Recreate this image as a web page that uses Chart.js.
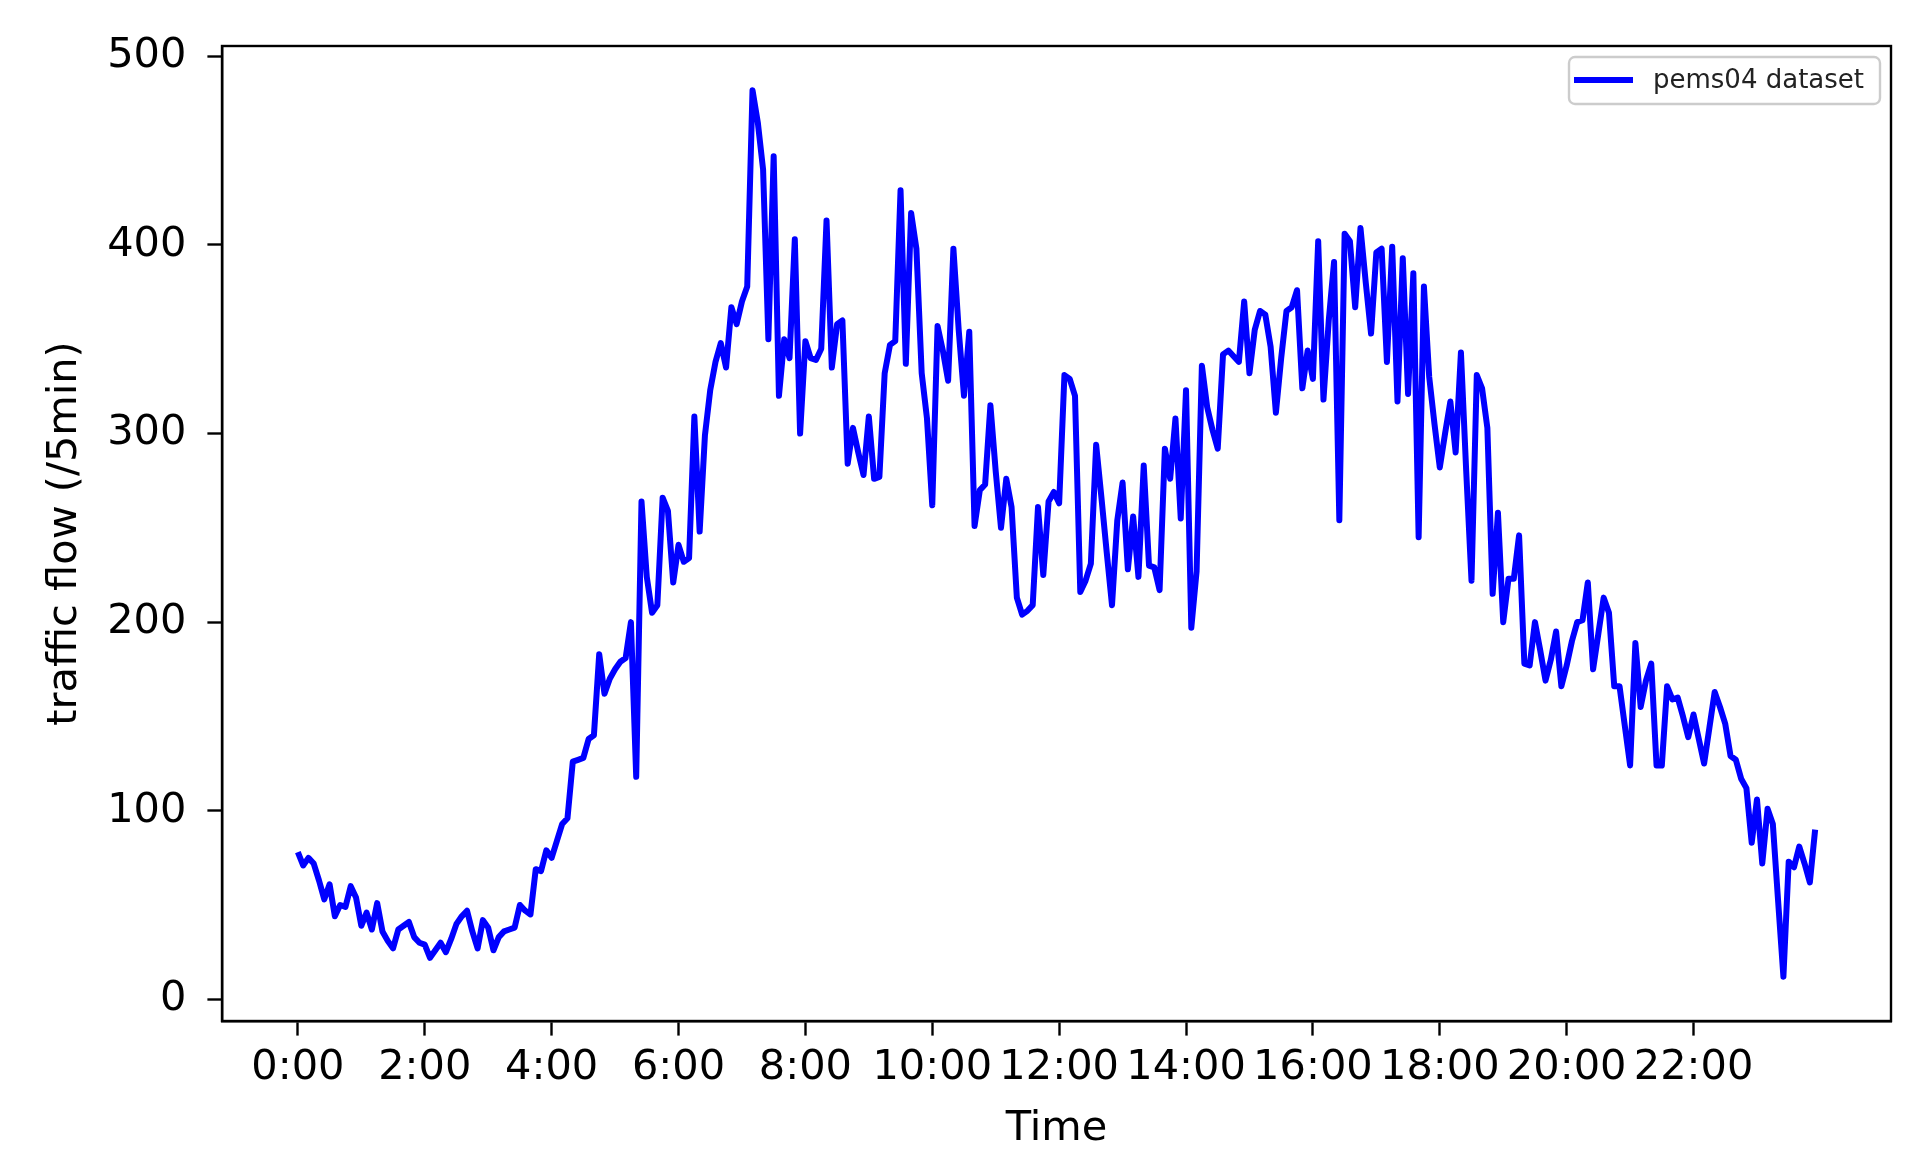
<!DOCTYPE html>
<html>
<head>
<meta charset="utf-8">
<title>pems04 traffic flow</title>
<script src="https://cdn.jsdelivr.net/npm/chart.js@4.4.1/dist/chart.umd.min.js"></script>
<style>
  html, body { margin: 0; padding: 0; background: #fff; }
</style>
</head>
<body>
<canvas id="flowChart" width="1928" height="1159"></canvas>
<script>
// one day of traffic flow, one value every 5 minutes (288 slots, 12 per row = 1 hour)
const flow = [
  78, 71, 75, 72, 63, 53, 61, 44, 50, 49, 60, 54,
  39, 46, 37, 51, 36, 31, 27, 37, 39, 41, 33, 30,
  29, 22, 26, 30, 25, 32, 40, 44, 47, 36, 27, 42,
  38, 26, 33, 36, 37, 38, 50, 47, 45, 69, 68, 79,
  75, 84, 93, 96, 126, 127, 128, 138, 140, 183, 162, 170,
  175, 179, 181, 200, 118, 264, 224, 205, 209, 266, 259, 221,
  241, 232, 234, 309, 248, 299, 323, 338, 348, 335, 367, 358,
  370, 378, 482, 465, 440, 350, 447, 320, 350, 340, 403, 300,
  349, 340, 339, 345, 413, 335, 358, 360, 284, 303, 290, 278,
  309, 276, 277, 332, 347, 349, 429, 337, 417, 398, 332, 308,
  262, 357, 344, 328, 398, 355, 320, 354, 251, 270, 273, 315,
  280, 250, 276, 261, 213, 204, 206, 209, 261, 225, 264, 269,
  263, 331, 329, 320, 216, 222, 231, 294, 266, 237, 209, 254,
  274, 228, 256, 224, 283, 230, 229, 217, 292, 276, 308, 255,
  323, 197, 227, 336, 314, 302, 292, 342, 344, 341, 338, 370,
  332, 355, 365, 363, 346, 311, 340, 365, 367, 376, 324, 344,
  329, 402, 318, 360, 391, 254, 406, 402, 367, 409, 380, 353,
  396, 398, 338, 399, 317, 393, 321, 385, 245, 378, 330, 305,
  282, 300, 317, 290, 343, 280, 222, 331, 324, 303, 215, 258,
  200, 223, 223, 246, 178, 177, 200, 185, 169, 180, 195, 166,
  177, 190, 200, 201, 221, 175, 194, 213, 205, 166, 166, 145,
  124, 189, 155, 169, 178, 124, 124, 166, 159, 160, 150, 139,
  151, 138, 125, 144, 163, 155, 146, 129, 127, 117, 112, 83,
  106, 72, 101, 93, 52, 12, 73, 70, 81, 72, 62, 90
];

// x ticks: slot index of every 2nd hour and its label
const tickSlots = [0, 24, 48, 72, 96, 120, 144, 168, 192, 216, 240, 264];
const tickLabels = ['0:00', '2:00', '4:00', '6:00', '8:00', '10:00', '12:00',
                    '14:00', '16:00', '18:00', '20:00', '22:00'];
const yTicks = [0, 100, 200, 300, 400, 500];
const seriesName = 'pems04 dataset';

const FONT = 'DejaVu Sans';

// box around the plot, like matplotlib spines
const framePlugin = {
  id: 'frame',
  afterDraw(chart) {
    const {ctx, chartArea: a} = chart;
    ctx.save();
    ctx.strokeStyle = '#000';
    ctx.lineWidth = 2.4;
    ctx.strokeRect(a.left, a.top, a.right - a.left, a.bottom - a.top);
    ctx.restore();
  }
};

// matplotlib-style legend in the upper right corner
const legendBox = {
  id: 'legendBox',
  afterDraw(chart) {
    const ctx = chart.ctx;
    const ds = chart.data.datasets[0];
    ctx.save();
    ctx.beginPath();
    ctx.roundRect(1569, 57, 311, 47, 6);
    ctx.fillStyle = 'rgba(255,255,255,0.8)';
    ctx.fill();
    ctx.strokeStyle = '#cccccc';
    ctx.lineWidth = 2.4;
    ctx.stroke();

    ctx.beginPath();
    ctx.moveTo(1574, 80);
    ctx.lineTo(1633, 80);
    ctx.strokeStyle = ds.borderColor;
    ctx.lineWidth = 6;
    ctx.stroke();

    ctx.fillStyle = '#222';
    ctx.font = '26px "' + FONT + '"';
    ctx.textBaseline = 'middle';
    ctx.textAlign = 'left';
    ctx.fillText(ds.label, 1653, 81);
    ctx.restore();
  }
};

const ctx = document.getElementById('flowChart').getContext('2d');
const flowChart = new Chart(ctx, {
  type: 'line',
  data: {
    datasets: [{
      label: seriesName,
      data: flow.map((v, i) => ({x: i, y: v})),
      borderColor: '#0000ff',
      borderWidth: 6,
      pointRadius: 0,
      tension: 0,
      fill: false,
      borderJoinStyle: 'round'
    }]
  },
  options: {
    responsive: false,
    animation: false,
    events: [],
    layout: { padding: { left: 0, right: 37, top: 46, bottom: 0 } },
    plugins: {
      legend: { display: false },
      tooltip: { enabled: false }
    },
    scales: {
      x: {
        type: 'linear',
        min: -14.35,
        max: 301.35,
        afterBuildTicks: s => { s.ticks = tickSlots.map(v => ({value: v})); },
        afterFit: s => { s.height = 138; },
        ticks: {
          autoSkip: false,
          maxRotation: 0,
          minRotation: 0,
          padding: 8,
          color: '#000',
          font: { family: FONT, size: 41.5 },
          callback: (v, i) => tickLabels[i]
        },
        grid: { drawOnChartArea: false, drawTicks: true, tickLength: 14.6, tickWidth: 2.4, tickColor: '#000' },
        border: { display: true, color: '#000', width: 2.4 },
        title: {
          display: true, text: 'Time', color: '#000',
          font: { family: FONT, size: 41.5 },
          padding: { top: 0, bottom: 5 }
        }
      },
      y: {
        type: 'linear',
        min: -11.5,
        max: 505.5,
        afterBuildTicks: s => { s.ticks = yTicks.map(v => ({value: v})); },
        afterFit: s => { s.width = 222; },
        ticks: {
          padding: 21,
          color: '#000',
          font: { family: FONT, size: 41.5 }
        },
        grid: { drawOnChartArea: false, drawTicks: true, tickLength: 14.6, tickWidth: 2.4, tickColor: '#000' },
        border: { display: true, color: '#000', width: 2.4 },
        title: {
          display: true, text: 'traffic flow (/5min)', color: '#000',
          font: { family: FONT, size: 41.5 },
          padding: { top: 40, bottom: 0 }
        }
      }
    }
  },
  plugins: [framePlugin, legendBox]
});
</script>
</body>
</html>
